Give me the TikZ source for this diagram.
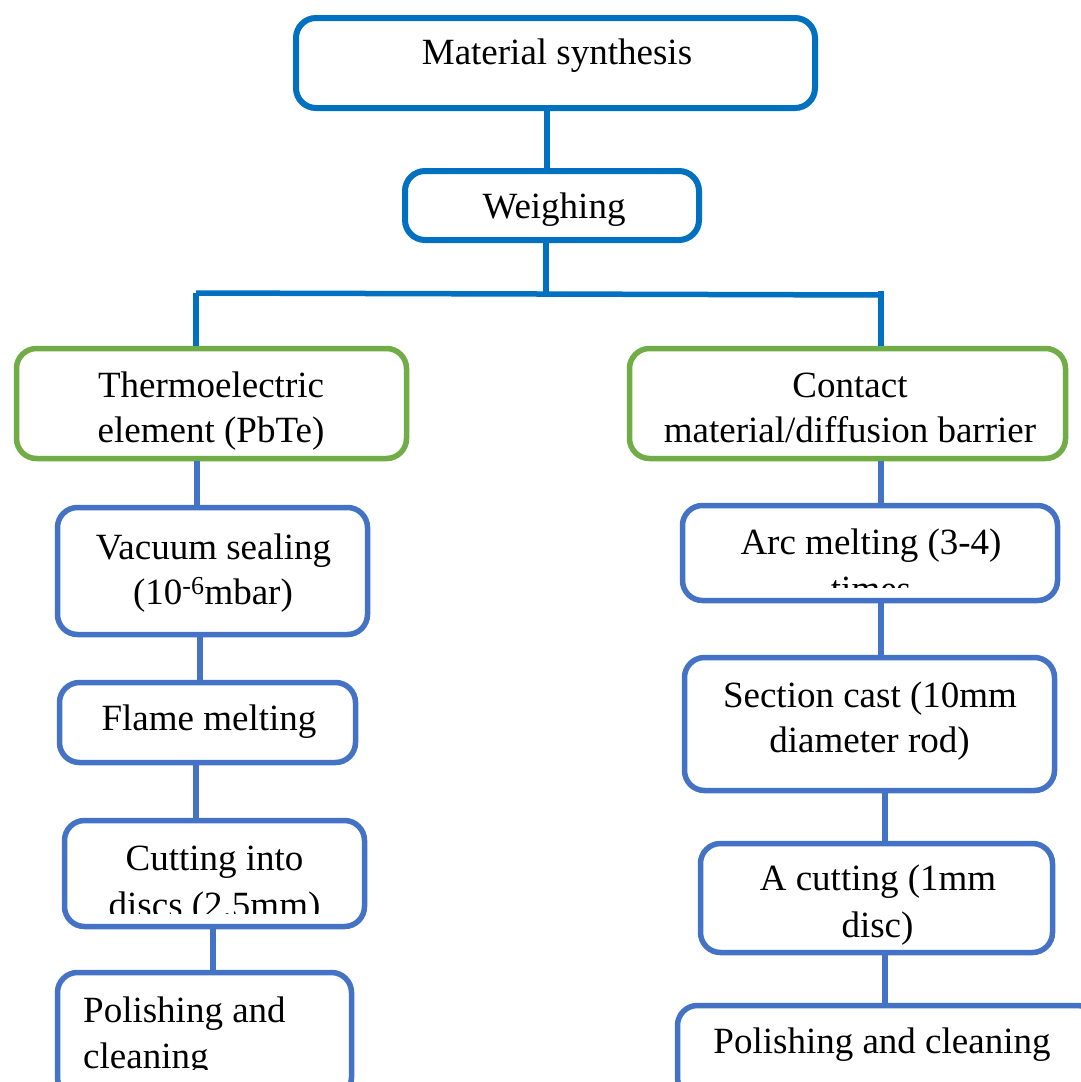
\documentclass[tikz,border=0pt]{standalone}
\usepackage{fontspec}
\setmainfont{Liberation Serif}
\usetikzlibrary{calc}
\definecolor{topblue}{HTML}{0070C0}
\definecolor{grn}{HTML}{70AD47}
\definecolor{lowblue}{HTML}{4472C4}
\begin{document}
\begin{tikzpicture}[x=1pt,y=-1pt,
  boxshape/.style={draw, rounded corners=20pt, line width=5.5pt, fill=white, inner sep=0pt},
  topbox/.style={boxshape, draw=topblue, line width=6pt},
  grnbox/.style={boxshape, draw=grn},
  lowbox/.style={boxshape, draw=lowblue},
  lbl/.style={anchor=base, inner sep=0pt, font=\fontsize{37}{47}\selectfont},
  topline/.style={draw=topblue, line width=5.5pt},
  lowline/.style={draw=lowblue, line width=5.5pt}]
\useasboundingbox (0,0) rectangle (1081,1082);
\fill[white] (0,0) rectangle (1081,1082);

% boxes
\node[topbox, minimum width=519pt, minimum height=90pt] (A) at (555.5,63) {};
\node[topbox, minimum width=294pt, minimum height=69pt] (B) at (552,205.5) {};
\node[grnbox, minimum width=390pt, minimum height=110pt] (C) at (211.5,403.5) {};
\node[grnbox, minimum width=436pt, minimum height=110pt] (D) at (847.5,403.5) {};
\node[lowbox, minimum width=310pt, minimum height=127pt] (E) at (212.5,571) {};
\node[lowbox, minimum width=296pt, minimum height=80pt] (F) at (207.5,722.5) {};
\node[lowbox, minimum width=300pt, minimum height=106pt] (G) at (214.5,873.5) {};
\node[lowbox, minimum width=294pt, minimum height=125pt] (H) at (204.5,1035) {};
\node[lowbox, minimum width=375pt, minimum height=95pt] (I) at (870,553) {};
\node[lowbox, minimum width=370pt, minimum height=133pt] (J) at (869.5,724) {};
\node[lowbox, minimum width=352pt, minimum height=109pt] (K) at (876.5,898) {};
\node[lowbox, minimum width=420pt, minimum height=92pt] (L) at (887.5,1051.5) {};

% texts
\node[lbl] (tA) at (557,64) {Material synthesis};
\node[lbl] (tB) at (554,218) {Weighing};
\node[lbl] (tC1) at (211,397) {Thermoelectric};
\node[lbl] (tC2) at (211,442) {element (PbTe)};
\node[lbl] (tD1) at (850,397) {Contact};
\node[lbl] (tD2) at (850,442) {material/diffusion barrier};
\node[lbl] (tE1) at (213.5,559) {Vacuum sealing};
\node[lbl] (tE2) at (213,604) {(10\textsuperscript{-6}mbar)};
\node[lbl] (tF) at (209,730) {Flame melting};
\node[lbl] (tG1) at (214.5,870) {Cutting into};
\begin{scope}
  \clip (60,880) rectangle (370,913);
  \node[lbl] (tG2) at (214.5,917) {discs (2.5mm)};
\end{scope}
\node[lbl, anchor=base west] (tH1) at (83,1022) {Polishing and};
\begin{scope}
  \clip (60,1030) rectangle (350,1069);
  \node[lbl, anchor=base west] (tH2) at (83,1068) {cleaning};
\end{scope}
\node[lbl] (tI1) at (871,554) {Arc melting (3-4)};
\begin{scope}
  \clip (690,560) rectangle (1050,587);
  \node[lbl] (tI2) at (871,601) {times};
\end{scope}
\node[lbl] (tJ1) at (870,707) {Section cast (10mm};
\node[lbl] (tJ2) at (869.5,752) {diameter rod)};
\node[lbl] (tK1) at (878,890) {A cutting (1mm};
\node[lbl] (tK2) at (877.5,937) {disc)};
\node[lbl] (tL) at (882,1053) {Polishing and cleaning};

% connectors
\coordinate (barL) at (196,293);
\coordinate (barR) at (881,295);
\coordinate (barM) at (546,294);
\coordinate (barRtop) at (881,291);
\draw[topline] (A.south -| 547,0) -- (B.north -| 547,0);
\draw[topline] (B.south -| 546,0) -- (barM);
\draw[topline] (barL) -- (barR);
\draw[topline] (barL) -- (C.north -| barL);
\draw[topline] (barRtop) -- (D.north -| barR);
\draw[lowline] (C.south -| 197,0) -- (E.north -| 197,0);
\draw[lowline] (E.south -| 200,0) -- (F.north -| 200,0);
\draw[lowline] (F.south -| 196,0) -- (G.north -| 196,0);
\draw[lowline] (G.south -| 213,0) -- (H.north -| 213,0);
\draw[lowline] (D.south -| 881,0) -- (I.north -| 881,0);
\draw[lowline] (I.south -| 881,0) -- (J.north -| 881,0);
\draw[lowline] (J.south -| 885,0) -- (K.north -| 885,0);
\draw[lowline] (K.south -| 885,0) -- (L.north -| 885,0);
\end{tikzpicture}
\end{document}
